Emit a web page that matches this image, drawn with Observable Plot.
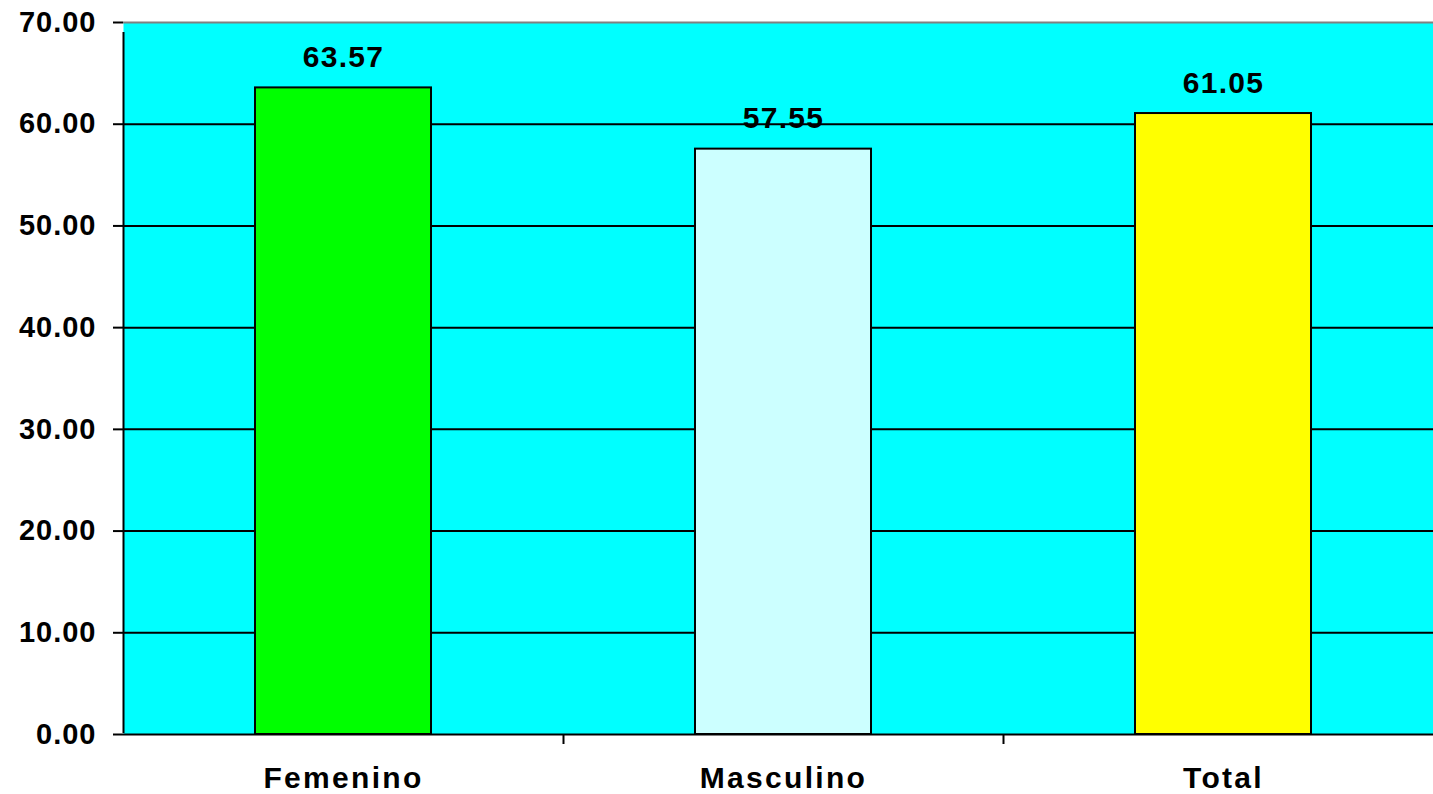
<!DOCTYPE html>
<html>
<head>
<meta charset="utf-8">
<script src="https://cdn.jsdelivr.net/npm/d3@7"></script>
<script src="https://cdn.jsdelivr.net/npm/@observablehq/plot@0.6"></script>
<style>
  html, body { margin: 0; padding: 0; background: #fff; overflow: hidden; }
  #chart svg { display: block; }
  .ylab text { letter-spacing: 1px; }
  .xlab text { letter-spacing: 2.3px; }
  .vlab text { letter-spacing: 1.3px; }
</style>
</head>
<body>
<div id="chart"></div>
<script>
const categories = ["Femenino", "Masculino", "Total"];
const values = [63.57, 57.55, 61.05];
const barColors = ["#00FF00", "#CCFFFF", "#FFFF00"];
const yTicks = [0, 10, 20, 30, 40, 50, 60, 70];

const data = categories.map((c, i) => ({ category: c, value: values[i], color: barColors[i] }));

const W = 1433, H = 794;
const mL = 123, mR = -10, mT = 22, mB = 60;
const step = (W - mL - mR) / categories.length;
const font = "'Liberation Sans', Arial, sans-serif";

const chart = Plot.plot({
  width: W,
  height: H,
  marginLeft: mL,
  marginRight: mR,
  marginTop: mT,
  marginBottom: mB,
  style: { fontFamily: font, fontWeight: "bold", background: "#fff", overflow: "visible" },
  x: { domain: categories, paddingInner: 0.6, paddingOuter: 0.3, label: null },
  y: { domain: [0, 70], label: null },
  marks: [
    Plot.frame({ fill: "#00FFFF", stroke: null }),
    Plot.ruleY(yTicks.filter(t => t > 0 && t < 70), { stroke: "#000", strokeWidth: 2 }),
    Plot.ruleY([70], { stroke: "#808080", strokeWidth: 2 }),
    Plot.barY(data, { x: "category", y: "value", fill: "color", stroke: "#000", strokeWidth: 2 }),
    Plot.ruleY([0], { stroke: "#000", strokeWidth: 2 }),
    // left axis line (extends below as the first category boundary tick)
    Plot.ruleX([categories[0]], { x: d => d, dx: -step / 2, y1: 0, y2: 70, insetTop: -1, insetBottom: -10, stroke: "#000", strokeWidth: 2 }),
    // category boundary ticks below x axis
    Plot.ruleX(categories.slice(1), { x: d => d, dx: -step / 2, y1: 0, y2: 0, insetBottom: -10, stroke: "#000", strokeWidth: 2 }),
    Plot.axisY({
      ticks: yTicks, tickFormat: d => d.toFixed(2), tickSize: 10, tickPadding: 17,
      stroke: "#000", strokeWidth: 2, fontSize: 29, fill: "#000", fontWeight: "bold",
      className: "ylab"
    }),
    Plot.axisX({ tickSize: 0, tickPadding: 32, fontSize: 30, fill: "#000", fontWeight: "bold", className: "xlab" }),
    Plot.text(data, {
      x: "category", y: "value", text: d => d.value.toFixed(2),
      dy: -21, lineAnchor: "bottom", fontSize: 30, fontWeight: "bold", fill: "#000",
      className: "vlab"
    })
  ]
});

document.getElementById("chart").append(chart);
</script>
</body>
</html>
